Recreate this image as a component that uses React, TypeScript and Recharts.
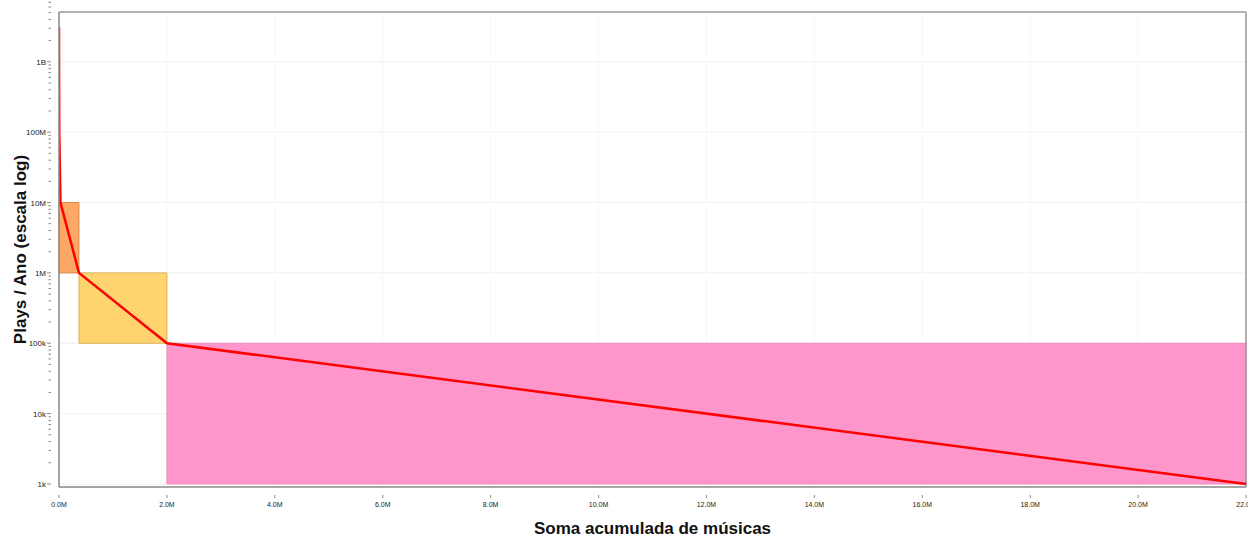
import React from 'react';
import {
  ComposedChart,
  Line,
  XAxis,
  YAxis,
  CartesianGrid,
  ReferenceArea,
  ReferenceLine } from
'recharts';

// red curve: cumulative songs vs plays per year
const curveX = [0, 500, 5000, 27000, 370000, 2000000, 22000000];
const curvePlays = [3.1e9, 1e9, 1e8, 1e7, 1e6, 1e5, 1e3];

// tiers (shaded boxes)
const tierStart = [0, 370000, 2000000];
const tierEnd = [370000, 2000000, 22000000];
const tierLow = [1e6, 1e5, 1e3];
const tierHigh = [1e7, 1e6, 1e5];
const tierFill = ['#ff9f55', '#ffd36e', '#ff96cb'];
const tierEdge = ['#e0894a', '#d9b25e', '#f08cbd'];

const xTicks = [0, 2e6, 4e6, 6e6, 8e6, 10e6, 12e6, 14e6, 16e6, 18e6, 20e6, 22e6];
const yMajor = [1e3, 1e4, 1e5, 1e6, 1e7, 1e8, 1e9];
const yMajorLabels = ['1k', '10k', '100k', '1M', '10M', '100M', '1B'];

const data = curveX.map((x, i) => ({ x, plays: curvePlays[i] }));

const yTicks: number[] = [];
yMajor.forEach((d) => {
  for (let m = 1; m < 10; m++) yTicks.push(d * m);
});

const isMajor = (v: number) => yMajor.some((d) => Math.abs(d - v) / d < 1e-6);

const YTick = (props: any) => {
  const { x, y, payload } = props;
  const v = payload.value;
  const major = isMajor(v);
  const idx = yMajor.findIndex((d) => Math.abs(d - v) / d < 1e-6);
  return (
    <g>
      <line x1={x - (major ? 4 : 2.5)} x2={x} y1={y} y2={y} stroke="#888" strokeWidth={1} />
      {major &&
      <text x={x - 5} y={y} dy={3} textAnchor="end" fontSize={8} fill="#222" fontFamily="Liberation Sans, Arial, sans-serif">
          {yMajorLabels[idx]}
        </text>
      }
    </g>);

};

const XTick = (props: any) => {
  const { x, y, payload } = props;
  return (
    <g>
      <line x1={x} x2={x} y1={y} y2={y + 3} stroke="#888" strokeWidth={1} />
      <text x={x} y={y + 12} textAnchor="middle" fontSize={7} fill="#222" fontFamily="Liberation Sans, Arial, sans-serif">
        {(payload.value / 1e6).toFixed(1) + 'M'}
      </text>
    </g>);

};

export default function App() {
  return (
    <div style={{ position: 'absolute', left: 0, top: 0, width: 1248, height: 538, background: '#fff' }}>
      <ComposedChart
        width={1248}
        height={538}
        data={data}
        margin={{ top: 12, right: 2, bottom: 0, left: 0 }}>

        <CartesianGrid
          stroke="#f0f0f0"
          strokeWidth={1}
          horizontalValues={yMajor}
          vertical={false} />

        <CartesianGrid
          stroke="#f7f7f7"
          strokeWidth={1}
          horizontal={false}
          verticalValues={xTicks} />

        <XAxis
          dataKey="x"
          type="number"
          domain={[0, 22e6]}
          ticks={xTicks}
          interval={0}
          tick={<XTick />}
          tickLine={false}
          axisLine={{ stroke: '#888', strokeWidth: 1.5 }}
          height={51}
          allowDataOverflow
          label={{
            value: 'Soma acumulada de músicas',
            position: 'insideBottom',
            offset: 4,
            style: { fontSize: 17, fontWeight: 'bold', fill: '#111', fontFamily: 'Liberation Sans, Arial, sans-serif' }
          }} />

        <YAxis
          type="number"
          scale="log"
          domain={[906, 5.1e9]}
          ticks={yTicks}
          interval={0}
          tick={<YTick />}
          tickLine={false}
          axisLine={{ stroke: '#888', strokeWidth: 1.5 }}
          width={59}
          allowDataOverflow
          label={{
            content: (p: any) => {
              const vb = p.viewBox;
              const cx = 20;
              const cy = vb.y + vb.height / 2;
              return (
                <text
                  x={cx}
                  y={cy}
                  transform={`rotate(-90, ${cx}, ${cy})`}
                  textAnchor="middle"
                  dominantBaseline="central"
                  fontSize={17}
                  fontWeight="bold"
                  fill="#111"
                  fontFamily="Liberation Sans, Arial, sans-serif">
                  Plays / Ano (escala log)
                </text>);

            }
          }} />

        {tierStart.map((s, i) =>
        <ReferenceArea
          key={`tier-${i}`}
          x1={s}
          x2={tierEnd[i]}
          y1={tierLow[i]}
          y2={tierHigh[i]}
          fill={tierFill[i]}
          fillOpacity={i === 0 ? 0.9 : 1}
          stroke={tierEdge[i]}
          strokeWidth={1}
          ifOverflow="visible" />
        )}
        <ReferenceLine y={5.1e9} stroke="#999" strokeWidth={1.5} ifOverflow="visible" />
        <ReferenceLine x={22e6} stroke="#999" strokeWidth={1.5} ifOverflow="visible" />
        <Line
          dataKey="plays"
          type="linear"
          stroke="#ff0000"
          strokeWidth={2.5}
          dot={false}
          isAnimationActive={false} />

      </ComposedChart>
    </div>);

}
